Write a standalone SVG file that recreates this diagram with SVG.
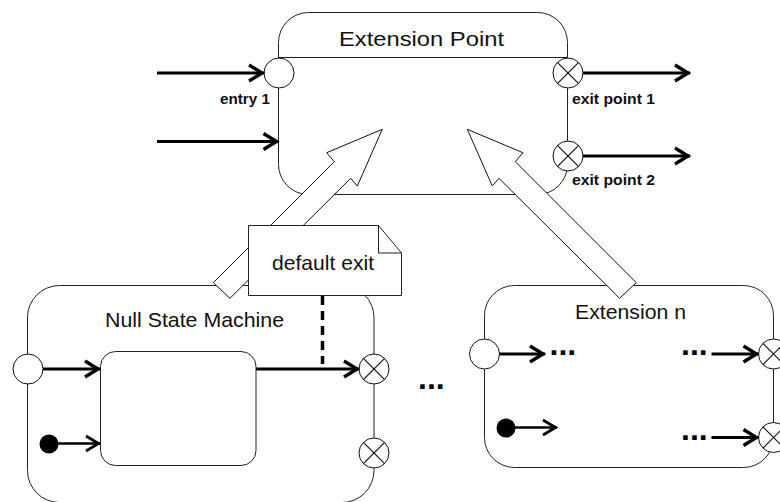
<svg xmlns="http://www.w3.org/2000/svg" width="780" height="502" viewBox="0 0 780 502">
  <defs>
    <style>
      .box { fill: #fff; stroke: #222; stroke-width: 1; }
      .line { fill: none; stroke: #222; stroke-width: 1; }
      .pt { fill: #fff; stroke: #111; stroke-width: 1; }
      .x { stroke: #111; stroke-width: 1.2; }
      .flow { fill: none; stroke: #000; stroke-width: 3.2; }
      .flow-thin { fill: none; stroke: #000; stroke-width: 2.4; }
      .dash { fill: none; stroke: #000; stroke-width: 3.5; stroke-dasharray: 9 6; }
      .big { fill: #fff; stroke: #111; stroke-width: 1; stroke-linejoin: miter; }
      .title { font-family: "Liberation Sans", Arial, sans-serif; font-size: 21px; fill: #111; }
      .lbl { font-family: "Liberation Sans", Arial, sans-serif; font-size: 15px; font-weight: bold; fill: #111; }
      .dots { font-family: "Liberation Sans", Arial, sans-serif; font-size: 32px; font-weight: bold; fill: #000; }
    </style>
    <marker id="head" markerUnits="userSpaceOnUse" viewBox="-18 -10 20 20" markerWidth="20" markerHeight="20" refX="0" refY="0" orient="auto" overflow="visible">
      <path d="M-15,-8 L-2,0 L-15,8" fill="none" stroke="#000" stroke-width="3.4"/>
    </marker>
    <marker id="head-thin" markerUnits="userSpaceOnUse" viewBox="-18 -10 20 20" markerWidth="20" markerHeight="20" refX="0" refY="0" orient="auto" overflow="visible">
      <path d="M-14,-7.5 L-1.5,0 L-14,7.5" fill="none" stroke="#000" stroke-width="2.8"/>
    </marker>
  </defs>

  <!-- Extension Point state -->
  <g id="extension-point">
    <rect class="box" x="278.5" y="12.5" width="289" height="182" rx="30" ry="30"/>
    <line class="line" x1="278.5" y1="57.5" x2="567.5" y2="57.5"/>
    <text class="title" x="339" y="46" font-size="23" textLength="165" lengthAdjust="spacingAndGlyphs">Extension Point</text>
    <circle class="pt" cx="279" cy="73" r="15"/>
    <text class="lbl" x="220" y="104" textLength="50" lengthAdjust="spacingAndGlyphs">entry 1</text>
    <circle class="pt" cx="568" cy="73" r="15"/>
    <line class="x" x1="557.4" y1="62.4" x2="578.6" y2="83.6"/>
    <line class="x" x1="557.4" y1="83.6" x2="578.6" y2="62.4"/>
    <text class="lbl" x="572" y="104" textLength="83" lengthAdjust="spacingAndGlyphs">exit point 1</text>
    <circle class="pt" cx="568" cy="156" r="15"/>
    <line class="x" x1="557.4" y1="145.4" x2="578.6" y2="166.6"/>
    <line class="x" x1="557.4" y1="166.6" x2="578.6" y2="145.4"/>
    <text class="lbl" x="572" y="185" textLength="83" lengthAdjust="spacingAndGlyphs">exit point 2</text>
  </g>

  <!-- Null State Machine -->
  <g id="null-state-machine">
    <rect class="box" x="27.5" y="285.5" width="346.5" height="217" rx="32" ry="32"/>
    <text class="title" x="105" y="327" textLength="179" lengthAdjust="spacingAndGlyphs">Null State Machine</text>
    <rect class="box" x="100.5" y="351.5" width="155.5" height="114" rx="15" ry="15"/>
    <circle class="pt" cx="28" cy="369" r="15"/>
    <circle cx="49" cy="444" r="9.5" fill="#000"/>
    <circle class="pt" cx="374" cy="369" r="15"/>
    <line class="x" x1="363.4" y1="358.4" x2="384.6" y2="379.6"/>
    <line class="x" x1="363.4" y1="379.6" x2="384.6" y2="358.4"/>
    <circle class="pt" cx="374" cy="453" r="15"/>
    <line class="x" x1="363.4" y1="442.4" x2="384.6" y2="463.6"/>
    <line class="x" x1="363.4" y1="463.6" x2="384.6" y2="442.4"/>
  </g>

  <!-- Extension n -->
  <g id="extension-n">
    <rect class="box" x="484.5" y="285.5" width="289" height="182" rx="30" ry="30"/>
    <text class="title" x="575" y="319" textLength="111" lengthAdjust="spacingAndGlyphs">Extension n</text>
    <circle class="pt" cx="484.5" cy="354" r="15"/>
    <circle cx="506" cy="428" r="9.5" fill="#000"/>
    <circle class="pt" cx="773.5" cy="354" r="15"/>
    <line class="x" x1="762.9" y1="343.4" x2="784.1" y2="364.6"/>
    <line class="x" x1="762.9" y1="364.6" x2="784.1" y2="343.4"/>
    <circle class="pt" cx="773.5" cy="437.5" r="15"/>
    <line class="x" x1="762.9" y1="426.9" x2="784.1" y2="448.1"/>
    <line class="x" x1="762.9" y1="448.1" x2="784.1" y2="426.9"/>
    <text class="dots" x="549.5" y="355">...</text>
    <text class="dots" x="681" y="355">...</text>
    <text class="dots" x="681" y="439.5">...</text>
  </g>

  <!-- ellipsis between the extensions -->
  <g id="more-extensions">
    <text class="dots" x="418" y="389">...</text>
  </g>

  <!-- transitions and extension arrows -->
  <g id="connectors">
    <line class="flow" x1="157" y1="73" x2="264" y2="73" marker-end="url(#head)"/>
    <line class="flow" x1="157" y1="141.5" x2="278.5" y2="141.5" marker-end="url(#head)"/>
    <line class="flow" x1="583" y1="73" x2="690" y2="73" marker-end="url(#head)"/>
    <line class="flow" x1="583" y1="156" x2="690" y2="156" marker-end="url(#head)"/>

    <line class="flow" x1="43" y1="369" x2="100" y2="369" marker-end="url(#head)"/>
    <line class="flow-thin" x1="58" y1="443.5" x2="100" y2="443.5" marker-end="url(#head-thin)"/>
    <line class="flow" x1="256" y1="369" x2="359" y2="369" marker-end="url(#head)"/>

    <line class="flow" x1="499.5" y1="354" x2="545" y2="354" marker-end="url(#head)"/>
    <line class="flow" x1="711.5" y1="354" x2="758.5" y2="354" marker-end="url(#head)"/>
    <line class="flow-thin" x1="515" y1="427.5" x2="557" y2="427.5" marker-end="url(#head-thin)"/>
    <line class="flow" x1="711.5" y1="437.5" x2="758.5" y2="437.5" marker-end="url(#head)"/>

    <!-- hollow extension arrows -->
    <polygon class="big" points="382.3,129.3 357.3,186 350.7,178.3 230,298.3 213.3,282.7 334.3,161.7 326.7,152.7"/>
    <polygon class="big" points="467.3,129.3 492.3,186 498.9,178.3 619.6,298.3 636.3,282.7 515.3,161.7 522.9,152.7"/>

    <line class="dash" x1="322.5" y1="296" x2="322.5" y2="364"/>
  </g>

  <!-- note -->
  <g id="default-exit-note">
    <path class="box" d="M248.5,225.5 H378.5 L401.5,253 V295.5 H248.5 Z"/>
    <path class="line" d="M378.5,225.5 V253 H401.5"/>
    <text class="title" x="272" y="270" textLength="102" lengthAdjust="spacingAndGlyphs">default exit</text>
  </g>
</svg>
